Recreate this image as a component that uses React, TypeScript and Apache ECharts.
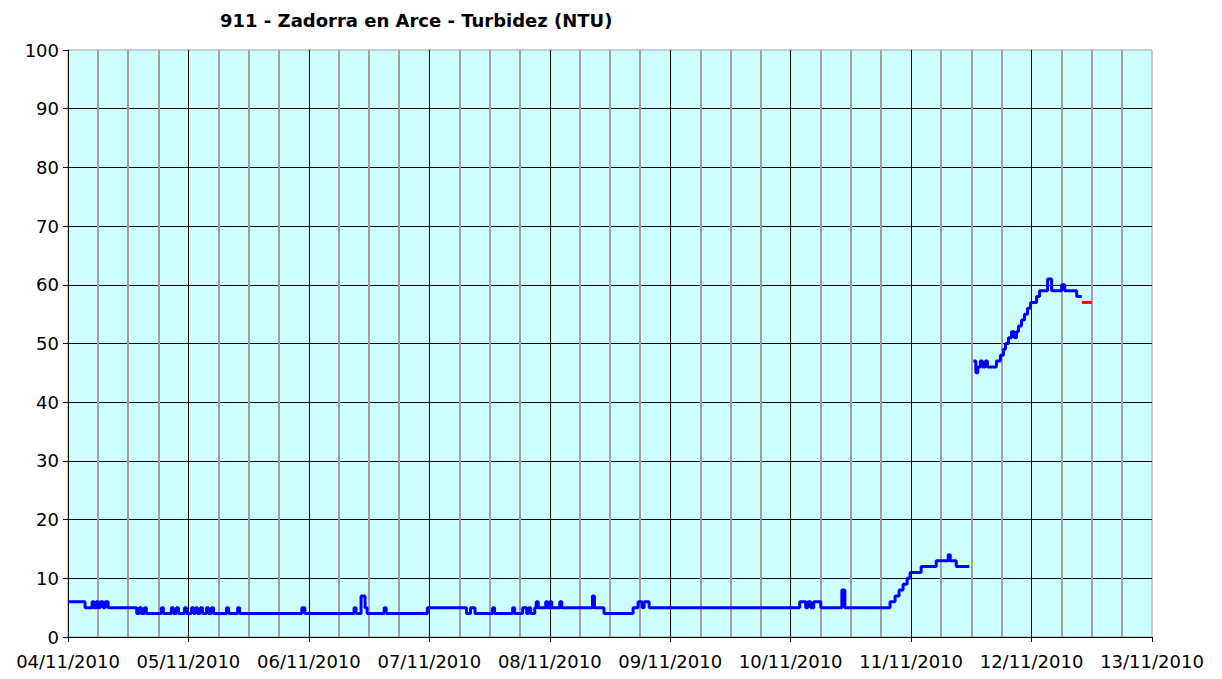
import React, { useEffect, useRef } from "react";
import * as echarts from "echarts";

const chartTitle = "911 - Zadorra en Arce - Turbidez (NTU)";

// x tick labels, one per day (hours offset = index * 24)
const dayLabels = [
  "04/11/2010", "05/11/2010", "06/11/2010", "07/11/2010", "08/11/2010",
  "09/11/2010", "10/11/2010", "11/11/2010", "12/11/2010", "13/11/2010",
];

// Blue series, first stretch: hours since 04/11/2010 00:00 and turbidity (NTU)
const hoursA = [
  0, 3.4, 4.8, 5.2, 5.6, 6.0, 6.4, 7.0, 7.4, 8.0, 13.7, 14.2, 14.6, 15.2, 15.6,
  18.6, 19.0, 20.6, 21.0, 21.6, 22.0, 23.2, 23.6, 24.6, 25.0, 25.4, 25.8, 26.4,
  26.8, 27.6, 28.0, 28.6, 29.0, 31.6, 32.0, 33.8, 34.2, 46.6, 47.2, 57.0, 57.4,
  58.4, 59.2, 59.6, 63.0, 63.4, 71.6, 79.4, 80.2, 81.1, 84.6, 85.0, 88.6, 89.0,
  90.6, 91.4, 91.8, 92.2, 93.0, 93.3, 93.7, 95.2, 95.6, 96.0, 96.4, 98.0, 98.4,
  104.5, 104.9, 106.8, 112.6, 113.6, 114.4, 114.8, 115.8, 145.8, 147.0, 147.4,
  148.0, 148.6, 150.0, 154.2, 154.8, 163.8, 164.8, 165.6, 166.4, 167.2, 167.8,
  170.0, 173.0, 175.4, 175.8, 177.0, 178.8,
];
const valuesA = [
  6, 5, 6, 5, 6, 5, 6, 5, 6, 5, 4, 5, 4, 5, 4,
  5, 4, 5, 4, 5, 4, 5, 4, 5, 4, 5, 4, 5,
  4, 5, 4, 5, 4, 5, 4, 5, 4, 5, 4, 5, 4,
  7, 5, 4, 5, 4, 5, 4, 5, 4, 5, 4, 5, 4,
  5, 4, 5, 4, 5, 6, 5, 6, 5, 6, 5, 6, 5,
  7, 5, 4, 5, 6, 5, 6, 5, 6, 5, 6,
  5, 6, 5, 8, 5, 6, 7, 8, 9, 10, 11,
  12, 13, 14, 13, 12, 12,
];

// Blue series, second stretch
const hoursB = [
  180.4, 180.9, 181.3, 181.8, 182.2, 182.8, 183.2, 185.0, 185.8, 186.4, 186.8,
  187.4, 188.0, 188.6, 189.0, 189.4, 190.0, 190.6, 191.2, 191.8, 193.0, 193.6,
  195.2, 196.0, 198.0, 198.6, 201.0, 202.0,
];
const valuesB = [
  47, 45, 46, 47, 46, 47, 46, 47, 48, 49, 50,
  51, 52, 51, 52, 53, 54, 55, 56, 57, 58, 59,
  61, 59, 60, 59, 58, 58,
];

// Red series
const hoursRed = [202.0, 204.0];
const valuesRed = [57, 57];

const FONT = "DejaVu Sans";

export default function App() {
  const ref = useRef<HTMLDivElement>(null);

  useEffect(() => {
    document.body.style.margin = "0";
    if (!ref.current) return;
    const chart = echarts.init(ref.current, null, { renderer: "svg" });

    const blue: (number | null)[][] = [];
    hoursA.forEach((h, i) => blue.push([h, valuesA[i]]));
    blue.push([179.6, null as any]);
    hoursB.forEach((h, i) => blue.push([h, valuesB[i]]));
    const red = hoursRed.map((h, i) => [h, valuesRed[i]]);

    chart.setOption({
      animation: false,
      backgroundColor: "#ffffff",
      title: {
        text: chartTitle,
        left: 215,
        top: 6,
        textStyle: {
          fontFamily: FONT,
          fontSize: 18,
          fontWeight: "bold",
          color: "#000000",
        },
      },
      grid: {
        left: 68,
        right: 70,
        top: 50,
        bottom: 42,
        show: true,
        backgroundColor: "#CCFFFF",
        borderColor: "#A0A0A0",
        borderWidth: 1,
        containLabel: false,
      },
      xAxis: {
        type: "value",
        min: 0,
        max: 216,
        interval: 24,
        axisLine: { show: true, onZero: false, lineStyle: { color: "#000000", width: 1 } },
        axisTick: { show: true, length: 5, lineStyle: { color: "#000000" } },
        axisLabel: {
          margin: 15,
          fontFamily: FONT,
          fontSize: 18,
          color: "#000000",
          formatter: (v: number) => dayLabels[Math.round(v / 24)] ?? "",
        },
        splitLine: {
          show: true,
          showMinLine: false,
          showMaxLine: false,
          lineStyle: { color: "#000000", width: 1 },
        },
        minorTick: { show: false, splitNumber: 4 },
        minorSplitLine: { show: true, lineStyle: { color: "#A0A0A0", width: 2 } },
      },
      yAxis: {
        type: "value",
        min: 0,
        max: 100,
        interval: 10,
        axisLine: { show: true, lineStyle: { color: "#000000", width: 1 } },
        axisTick: { show: true, length: 5, lineStyle: { color: "#000000" } },
        axisLabel: {
          margin: 9,
          fontFamily: FONT,
          fontSize: 18,
          color: "#000000",
        },
        splitLine: {
          show: true,
          showMinLine: false,
          showMaxLine: false,
          lineStyle: { color: "#000000", width: 1 },
        },
      },
      series: [
        {
          type: "line",
          data: blue,
          step: "end",
          showSymbol: false,
          connectNulls: false,
          lineStyle: { color: "#0000FF", width: 3 },
          itemStyle: { color: "#0000FF" },
          z: 3,
        },
        {
          type: "line",
          data: red,
          step: "end",
          showSymbol: false,
          lineStyle: { color: "#FF0000", width: 3 },
          itemStyle: { color: "#FF0000" },
          z: 3,
        },
      ],
    });

    return () => chart.dispose();
  }, []);

  return <div ref={ref} style={{ width: 1222, height: 679 }} />;
}
